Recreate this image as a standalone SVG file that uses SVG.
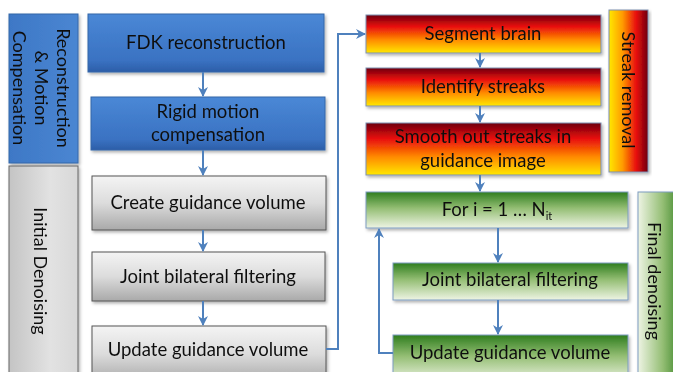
<svg xmlns="http://www.w3.org/2000/svg" width="673" height="372" viewBox="0 0 673 372">
<defs>
<linearGradient id="gBlue" x1="0" y1="0" x2="0" y2="1"><stop offset="0" stop-color="#4a88d6"/><stop offset="0.8" stop-color="#3a72c2"/><stop offset="1" stop-color="#2c5ea8"/></linearGradient>
<linearGradient id="gBlueSide" x1="0" y1="0" x2="1" y2="0"><stop offset="0" stop-color="#3e78c6"/><stop offset="1" stop-color="#4a86d2"/></linearGradient>
<linearGradient id="gGray" x1="0" y1="0" x2="0" y2="1"><stop offset="0" stop-color="#f4f4f4"/><stop offset="0.5" stop-color="#dcdcdc"/><stop offset="1" stop-color="#a9a9a9"/></linearGradient>
<linearGradient id="gGraySide" x1="0" y1="0" x2="1" y2="0"><stop offset="0" stop-color="#c4c4c4"/><stop offset="0.6" stop-color="#e2e2e2"/><stop offset="1" stop-color="#d8d8d8"/></linearGradient>
<linearGradient id="gFire" x1="0" y1="0" x2="0" y2="1"><stop offset="0" stop-color="#6e0010"/><stop offset="0.3" stop-color="#e80c0c"/><stop offset="0.65" stop-color="#ff8a00"/><stop offset="1" stop-color="#ffe800"/></linearGradient>
<linearGradient id="gFireSide" x1="0" y1="0" x2="1" y2="0"><stop offset="0" stop-color="#ffe800"/><stop offset="0.35" stop-color="#ff9a00"/><stop offset="0.7" stop-color="#e80c0c"/><stop offset="1" stop-color="#6e0010"/></linearGradient>
<linearGradient id="gGreen" x1="0" y1="0" x2="0" y2="1"><stop offset="0" stop-color="#2f7d1e"/><stop offset="0.45" stop-color="#94be74"/><stop offset="1" stop-color="#eef4e4"/></linearGradient>
<linearGradient id="gGreenSide" x1="0" y1="0" x2="1" y2="0"><stop offset="0" stop-color="#eef4e4"/><stop offset="0.55" stop-color="#94be74"/><stop offset="1" stop-color="#2f7d1e"/></linearGradient>
<marker id="ah" viewBox="0 0 10 10" refX="9" refY="5" markerWidth="5" markerHeight="5" orient="auto" markerUnits="strokeWidth"><path d="M0,0 L10,5 L0,10 L3,5 Z" fill="#4f81bd"/></marker>
<filter id="sh" x="-5%" y="-10%" width="115%" height="130%"><feDropShadow dx="1.5" dy="2" stdDeviation="1.5" flood-color="#000" flood-opacity="0.3"/></filter>
</defs>
<style>
text{font-family:Lato,"Open Sans","Liberation Sans",sans-serif;fill:#111;font-size:18.5px;text-anchor:middle}
.side text{font-size:18px}
.box{filter:url(#sh)}
.blue{fill:url(#gBlue);stroke:#3566a8;stroke-width:1}
.gray{fill:url(#gGray);stroke:#555;stroke-width:1}
.fire{fill:url(#gFire);stroke:#7e8fb0;stroke-width:1}
.green{fill:url(#gGreen);stroke:#7d9cc0;stroke-width:1}
.conn path{fill:none;stroke:#4f81bd;stroke-width:2;marker-end:url(#ah)}
</style>
<g id="side-recon" class="box side"><rect x="9" y="14" width="69" height="149" fill="url(#gBlueSide)" stroke="#3566a8"/>
<g transform="translate(41,88) rotate(90)"><text y="-22" dy="0.35em">Reconstruction</text><text y="0" dy="0.35em">&amp; Motion</text><text y="22" dy="0.35em">Compensation</text></g></g>
<g id="side-initial" class="box side"><rect x="9" y="166" width="69" height="215" fill="url(#gGraySide)" stroke="#666"/>
<text transform="translate(40,271) rotate(90)" dy="0.35em">Initial Denoising</text></g>
<g id="side-streak" class="box side"><rect x="609" y="10" width="39" height="162" fill="url(#gFireSide)" stroke="#7e8fb0"/>
<text transform="translate(628,90) rotate(90)" dy="0.35em">Streak removal</text></g>
<g id="side-final" class="box side"><rect x="638" y="192" width="45" height="190" fill="url(#gGreenSide)" stroke="#7d9cc0"/>
<text transform="translate(654,281) rotate(90)" dy="0.35em">Final denoising</text></g>

<g id="fdk" class="box"><rect class="blue" x="88" y="14" width="236" height="58"/><text x="206" y="49">FDK reconstruction</text></g>
<g id="rigid" class="box"><rect class="blue" x="91" y="97" width="234" height="53"/><text x="208" y="118">Rigid motion</text><text x="208" y="141">compensation</text></g>
<g id="create" class="box"><rect class="gray" x="92" y="176" width="234" height="54"/><text x="208" y="209">Create guidance volume</text></g>
<g id="joint1" class="box"><rect class="gray" x="92" y="252" width="233" height="49"/><text x="208" y="283">Joint bilateral filtering</text></g>
<g id="update1" class="box"><rect class="gray" x="92" y="326" width="234" height="56"/><text x="208" y="356">Update guidance volume</text></g>

<g id="segment" class="box"><rect class="fire" x="366" y="15" width="235" height="38"/><text x="483" y="40">Segment brain</text></g>
<g id="identify" class="box"><rect class="fire" x="366" y="68" width="235" height="38"/><text x="483" y="93">Identify streaks</text></g>
<g id="smooth" class="box"><rect class="fire" x="366" y="123" width="235" height="52"/><text x="483" y="143">Smooth out streaks in</text><text x="483" y="167">guidance image</text></g>

<g id="fori" class="box"><rect class="green" x="366" y="192" width="262" height="36"/><text x="497" y="216">For i = 1 … N<tspan font-size="11" dy="4">it</tspan></text></g>
<g id="joint2" class="box"><rect class="green" x="393" y="263" width="235" height="37"/><text x="510" y="286">Joint bilateral filtering</text></g>
<g id="update2" class="box"><rect class="green" x="393" y="335" width="235" height="47"/><text x="510" y="359">Update guidance volume</text></g>

<g id="connectors" class="conn">
<path d="M203,72 V96"/>
<path d="M203,150 V175"/>
<path d="M203,230 V251"/>
<path d="M203,301 V325"/>
<path d="M326,349 H338 V34 H365"/>
<path d="M480,53 V67"/>
<path d="M480,106 V122"/>
<path d="M480,175 V191"/>
<path d="M498,228 V262"/>
<path d="M498,300 V334"/>
<path d="M393,353 H379 V229"/>
</g>
</svg>
